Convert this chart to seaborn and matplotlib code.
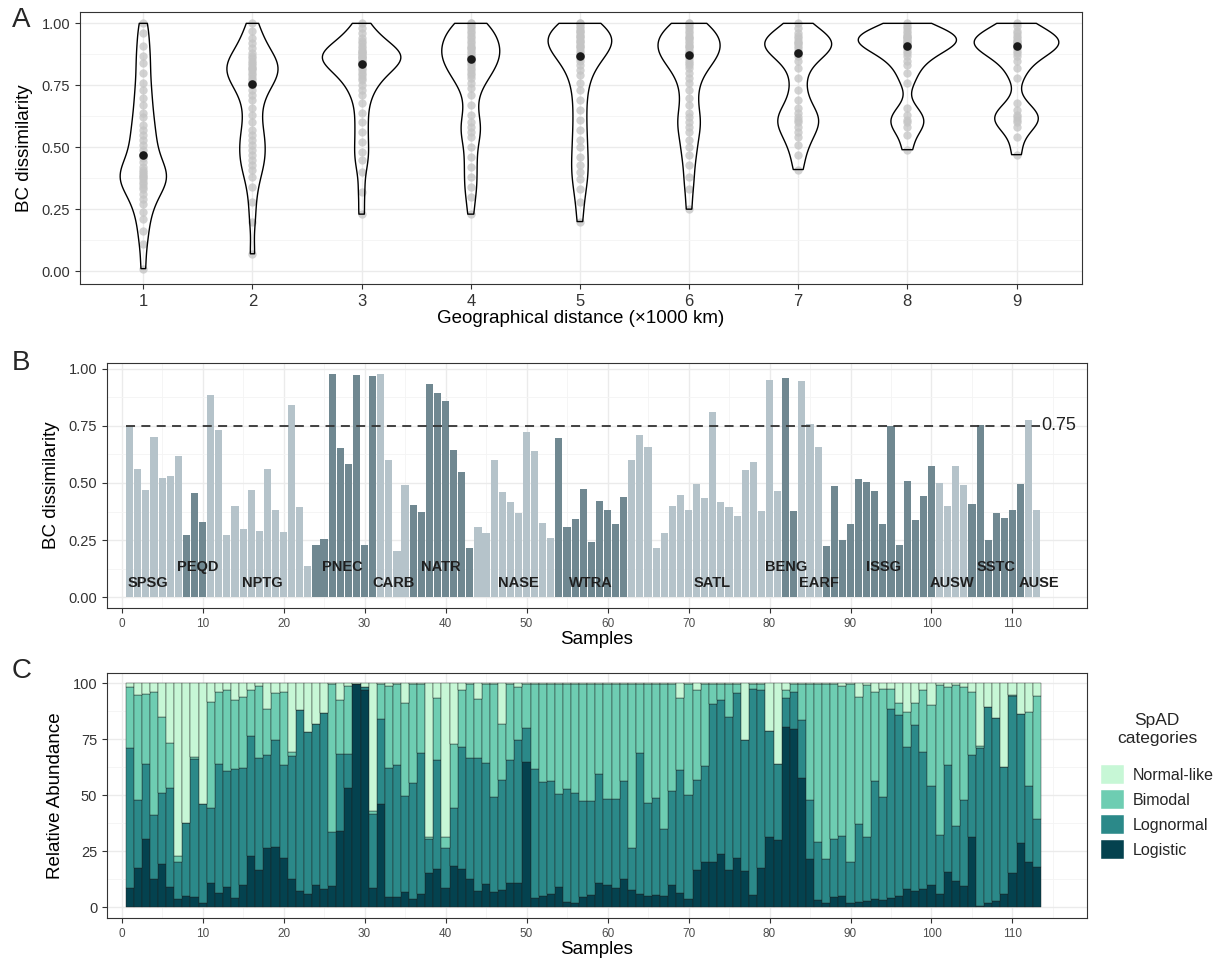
import numpy as np
import pandas as pd
import matplotlib
matplotlib.use("Agg")
import matplotlib.pyplot as plt
import seaborn as sns
from matplotlib.ticker import FixedLocator

sns.set_theme(style="white")
plt.rcParams['font.family'] = ['Liberation Sans', 'DejaVu Sans']

# ---------------- Panel A data ----------------
dist_labels = ['1', '2', '3', '4', '5', '6', '7', '8', '9']
bc_d1 = [0.01, 0.11, 0.16, 0.21, 0.24, 0.27, 0.29, 0.31, 0.33, 0.34, 0.35, 0.36, 0.37,
         0.38, 0.385, 0.39, 0.40, 0.41, 0.42, 0.44, 0.455, 0.47, 0.49, 0.51, 0.53, 0.55,
         0.57, 0.59, 0.62, 0.64, 0.67, 0.70, 0.73, 0.76, 0.80, 0.84, 0.87, 0.91, 0.96, 1.00]
bc_d2 = [0.07, 0.20, 0.28, 0.34, 0.38, 0.41, 0.43, 0.45, 0.47, 0.49, 0.51, 0.53, 0.55, 0.57,
         0.60, 0.63, 0.66, 0.69, 0.71, 0.73, 0.75, 0.76, 0.77, 0.78, 0.79, 0.80, 0.81, 0.82,
         0.82, 0.83, 0.84, 0.85, 0.86, 0.87, 0.88, 0.90, 0.92, 0.94, 0.97, 1.00]
bc_d3 = [0.23, 0.32, 0.40, 0.45, 0.48, 0.52, 0.56, 0.60, 0.64, 0.68, 0.71, 0.73, 0.75, 0.77,
         0.78, 0.79, 0.80, 0.81, 0.82, 0.83, 0.84, 0.84, 0.85, 0.85, 0.86, 0.86, 0.87, 0.87,
         0.88, 0.88, 0.89, 0.89, 0.90, 0.91, 0.92, 0.93, 0.94, 0.96, 0.98, 1.00]
bc_d4 = [0.23, 0.30, 0.34, 0.38, 0.42, 0.46, 0.50, 0.54, 0.56, 0.58, 0.60, 0.63, 0.67, 0.71,
         0.74, 0.76, 0.78, 0.79, 0.80, 0.81, 0.82, 0.83, 0.84, 0.85, 0.86, 0.87, 0.87, 0.88,
         0.89, 0.90, 0.90, 0.91, 0.92, 0.93, 0.94, 0.95, 0.96, 0.97, 0.98, 0.99, 1.00, 1.00]
bc_d5 = [0.20, 0.28, 0.33, 0.37, 0.40, 0.43, 0.46, 0.50, 0.53, 0.57, 0.61, 0.65, 0.69, 0.73,
         0.76, 0.79, 0.81, 0.83, 0.85, 0.86, 0.87, 0.88, 0.89, 0.90, 0.91, 0.91, 0.92, 0.93,
         0.93, 0.94, 0.95, 0.95, 0.96, 0.97, 0.97, 0.98, 0.99, 1.00, 1.00]
bc_d6 = [0.25, 0.33, 0.38, 0.43, 0.47, 0.50, 0.53, 0.56, 0.58, 0.60, 0.62, 0.64, 0.67, 0.70,
         0.73, 0.76, 0.78, 0.80, 0.82, 0.83, 0.84, 0.85, 0.86, 0.87, 0.88, 0.88, 0.89, 0.90,
         0.91, 0.91, 0.92, 0.93, 0.94, 0.94, 0.95, 0.96, 0.97, 0.98, 0.99, 1.00, 1.00]
bc_d7 = [0.41, 0.47, 0.51, 0.54, 0.56, 0.58, 0.60, 0.61, 0.62, 0.64, 0.66, 0.69, 0.73, 0.78,
         0.82, 0.85, 0.87, 0.88, 0.89, 0.90, 0.91, 0.92, 0.92, 0.93, 0.94, 0.95, 0.96, 0.98, 1.00]
bc_d8 = [0.49, 0.55, 0.58, 0.60, 0.61, 0.63, 0.66, 0.76, 0.80, 0.83, 0.85, 0.87, 0.88, 0.89,
         0.90, 0.91, 0.92, 0.92, 0.93, 0.93, 0.94, 0.94, 0.95, 0.95, 0.96, 0.97, 0.98, 0.99, 1.00]
bc_d9 = [0.47, 0.54, 0.58, 0.60, 0.61, 0.62, 0.63, 0.65, 0.68, 0.78, 0.82, 0.85, 0.87, 0.88,
         0.89, 0.90, 0.91, 0.92, 0.92, 0.93, 0.93, 0.94, 0.95, 0.96, 0.97, 0.99, 1.00]
bc_means = [0.467, 0.754, 0.835, 0.857, 0.869, 0.871, 0.882, 0.908, 0.907]

# ---------------- Panel B data ----------------
region_names = ['SPSG', 'PEQD', 'NPTG', 'PNEC', 'CARB', 'NATR', 'NASE', 'WTRA', 'SATL',
                'BENG', 'EARF', 'ISSG', 'AUSW', 'SSTC', 'AUSE']
region_sizes = [7, 3, 13, 8, 4, 8, 10, 9, 19, 2, 3, 14, 4, 7, 2]
region_shade = ['light', 'dark', 'light', 'dark', 'light', 'dark', 'light', 'dark', 'light',
                'dark', 'light', 'dark', 'light', 'dark', 'light']
region_label_x = [3.3, 9.4, 17.4, 27.2, 33.6, 39.4, 49.0, 57.9, 72.9, 82.0, 86.1, 94.1,
                  102.5, 108.0, 113.3]
region_label_y = [0.06, 0.13, 0.06, 0.13, 0.06, 0.13, 0.06, 0.06, 0.06, 0.13, 0.06, 0.13,
                  0.06, 0.13, 0.06]
bc_sample = [0.75, 0.56, 0.47, 0.70, 0.52, 0.53, 0.62, 0.27, 0.455, 0.33,
             0.886, 0.73, 0.272, 0.40, 0.298, 0.47, 0.29, 0.56, 0.383, 0.285,
             0.843, 0.395, 0.136, 0.228, 0.254, 0.978, 0.652, 0.585, 0.975, 0.228,
             0.969, 0.978, 0.60, 0.20, 0.49, 0.402, 0.373, 0.933, 0.895, 0.86,
             0.645, 0.547, 0.215, 0.307, 0.281, 0.602, 0.459, 0.418, 0.368, 0.722,
             0.64, 0.325, 0.259, 0.696, 0.307, 0.342, 0.474, 0.241, 0.421, 0.382,
             0.32, 0.437, 0.602, 0.709, 0.659, 0.215, 0.281, 0.399, 0.447, 0.382,
             0.496, 0.436, 0.81, 0.418, 0.395, 0.355, 0.556, 0.594, 0.376, 0.953,
             0.465, 0.962, 0.376, 0.947, 0.759, 0.659, 0.224, 0.485, 0.25, 0.32,
             0.517, 0.504, 0.465, 0.32, 0.75, 0.228, 0.51, 0.338, 0.443, 0.573,
             0.499, 0.399, 0.573, 0.49, 0.408, 0.754, 0.25, 0.368, 0.346, 0.382,
             0.496, 0.775, 0.38]
threshold = 0.75

# ---------------- Panel C data (cumulative boundaries, %) ----------------
cat_order = ['Normal-like', 'Bimodal', 'Lognormal', 'Logistic']
top_logistic = [8.8, 17.5, 30.3, 12.6, 19.4, 9.1, 3.9, 5.0, 4.5, 1.8,
                11.1, 6.5, 9.2, 4.2, 9.9, 22.8, 16.9, 26.4, 27.0, 22.1,
                12.8, 7.4, 6.2, 9.9, 8.2, 9.5, 34.1, 53.3, 99.4, 97.0,
                8.5, 46.3, 4.5, 4.5, 7.1, 3.9, 5.9, 15.3, 17.0, 8.8,
                18.4, 17.0, 12.5, 7.4, 10.4, 7.0, 7.7, 10.7, 10.7, 64.8,
                4.0, 5.0, 5.9, 8.9, 2.4, 2.1, 4.7, 5.5, 11.0, 9.9,
                8.5, 12.9, 7.7, 5.9, 5.0, 5.5, 5.0, 9.9, 6.5, 3.9,
                16.9, 20.3, 20.3, 24.0, 16.6, 22.1, 16.3, 5.5, 17.4, 31.5,
                30.0, 80.4, 79.7, 57.9, 21.8, 3.3, 2.1, 4.7, 5.0, 1.8,
                2.4, 2.8, 3.9, 3.3, 4.2, 4.9, 8.2, 7.4, 8.3, 9.9,
                5.9, 15.9, 11.9, 9.6, 31.5, 0.7, 1.8, 3.0, 6.2, 15.4,
                28.5, 20.3, 18.1]
top_lognormal = [71.2, 48.1, 63.8, 41.4, 51.2, 53.4, 20.3, 37.8, 66.3, 46.0,
                 44.1, 63.8, 60.8, 61.7, 62.2, 76.4, 66.8, 68.0, 74.8, 63.4,
                 67.4, 88.1, 78.0, 81.6, 86.8, 33.7, 68.5, 68.2, 99.4, 98.2,
                 41.8, 84.1, 62.2, 63.6, 49.7, 55.5, 68.8, 30.7, 65.7, 26.3,
                 44.5, 71.4, 66.8, 66.8, 64.5, 49.1, 57.0, 65.7, 74.5, 80.1,
                 61.7, 55.8, 56.4, 50.7, 53.0, 51.2, 47.5, 47.5, 59.6, 48.5,
                 48.5, 56.2, 26.7, 68.8, 46.6, 48.8, 35.0, 51.9, 61.1, 50.0,
                 56.7, 62.9, 90.8, 92.6, 84.9, 95.5, 74.8, 97.5, 96.7, 78.5,
                 63.8, 93.5, 96.0, 83.4, 48.1, 29.1, 21.8, 30.4, 31.9, 20.3,
                 37.4, 31.5, 56.2, 49.0, 88.3, 85.6, 71.5, 81.2, 69.3, 54.2,
                 32.5, 63.4, 36.4, 47.8, 68.1, 71.1, 89.3, 84.4, 62.6, 94.2,
                 86.0, 54.2, 39.3]
top_bimodal = [98.2, 94.8, 95.3, 96.1, 84.9, 73.3, 23.0, 37.8, 67.0, 46.0,
               91.4, 96.0, 96.7, 92.6, 93.8, 97.0, 98.7, 88.6, 95.5, 96.0,
               69.1, 88.1, 78.0, 81.6, 86.8, 99.4, 92.3, 98.7, 99.4, 98.2,
               43.0, 99.7, 98.5, 99.7, 91.1, 99.4, 99.4, 31.5, 93.5, 31.2,
               72.7, 96.7, 99.4, 93.0, 99.7, 99.7, 81.6, 99.4, 98.2, 99.7,
               99.7, 99.7, 99.7, 99.7, 99.7, 99.7, 99.7, 99.7, 99.7, 99.7,
               99.7, 99.7, 99.7, 99.7, 99.7, 99.7, 99.7, 99.7, 93.5, 99.7,
               97.0, 99.7, 99.7, 99.7, 99.7, 99.5, 74.8, 99.7, 99.7, 78.5,
               63.8, 96.7, 99.5, 99.7, 99.7, 99.7, 99.7, 99.7, 98.5, 99.7,
               93.8, 99.0, 96.0, 97.5, 97.5, 91.1, 87.1, 91.1, 96.7, 90.4,
               99.0, 98.2, 99.0, 98.2, 96.0, 71.8, 89.3, 84.4, 62.6, 94.5,
               86.0, 87.1, 94.0]

# ---------------- Build data frames ----------------
groups = [bc_d1, bc_d2, bc_d3, bc_d4, bc_d5, bc_d6, bc_d7, bc_d8, bc_d9]
dfA = pd.DataFrame({
    'dist': np.concatenate([[lab] * len(g) for lab, g in zip(dist_labels, groups)]),
    'bc': np.concatenate(groups)})

samples = np.arange(1, len(bc_sample) + 1)
dfB = pd.DataFrame({'sample': samples, 'bc': bc_sample,
                    'shade': np.repeat(region_shade, region_sizes)})

tl = np.array(top_logistic)
tn = np.array(top_lognormal)
tb = np.array(top_bimodal)
comp = {'Logistic': tl, 'Lognormal': tn - tl, 'Bimodal': tb - tn, 'Normal-like': 100 - tb}
dfC = pd.concat([pd.DataFrame({'sample': samples, 'category': k, 'pct': v})
                 for k, v in comp.items()], ignore_index=True)

# ---------------- Figure ----------------
W, H = 1230, 961
fig = plt.figure(figsize=(W / 100, H / 100), dpi=100)

def rect(l, t, r, b):
    return [l / W, 1 - b / H, (r - l) / W, (b - t) / H]

axA = fig.add_axes(rect(80, 11.7, 1082, 284))
axB = fig.add_axes(rect(107, 362.7, 1087, 608.3))
axC = fig.add_axes(rect(107, 672.7, 1087, 918))

border = '#333333'
tickcol = '#333333'

def style(ax):
    for s in ax.spines.values():
        s.set_color(border)
        s.set_linewidth(0.8)
        s.set_visible(True)
    ax.set_axisbelow(True)
    ax.grid(which='major', color='#ebebeb', linewidth=1.0)
    ax.grid(which='minor', color='#f4f4f4', linewidth=0.6)
    ax.tick_params(which='major', length=3.5, width=0.8, color=border, direction='out',
                   bottom=True, left=True)
    ax.tick_params(which='minor', length=0)

# ---- Panel A ----
sns.stripplot(data=dfA, x='dist', y='bc', order=dist_labels, jitter=False,
              color='#c4c4c4', alpha=0.75, size=6, linewidth=0, ax=axA, zorder=1)
sns.violinplot(data=dfA, x='dist', y='bc', order=dist_labels, cut=0,
               density_norm='area', inner=None, fill=False, color='black',
               linewidth=1.0, width=0.9, bw_adjust=0.5, ax=axA, zorder=2)
sns.stripplot(x=dist_labels, y=bc_means, order=dist_labels, jitter=False,
              color='#1a1a1a', size=6.2, linewidth=0, ax=axA, zorder=5)
axA.set_xlim(-0.58, 8.6)
axA.set_ylim(-0.052, 1.047)
axA.yaxis.set_major_locator(FixedLocator([0, 0.25, 0.5, 0.75, 1.0]))
axA.set_yticklabels(['0.00', '0.25', '0.50', '0.75', '1.00'])
axA.yaxis.set_minor_locator(FixedLocator([0.125, 0.375, 0.625, 0.875]))
style(axA)
axA.tick_params(axis='x', labelsize=12, labelcolor=tickcol)
axA.tick_params(axis='y', labelsize=10.5, labelcolor=tickcol)
axA.set_xlabel('Geographical distance (×1000 km)', fontsize=13.5, color='black', labelpad=1)
axA.set_ylabel('BC dissimilarity', fontsize=13.5, color='black', labelpad=6)

# ---- Panel B ----
sns.barplot(data=dfB, x='sample', y='bc', hue='shade',
            palette={'light': '#b2c4cd', 'dark': '#6a8b96'}, native_scale=True,
            dodge=False, width=0.88, linewidth=0, legend=False, ax=axB, zorder=2)
axB.plot([0.6, 113.4], [threshold, threshold], linestyle=(0, (5, 3.5)),
         color='#333333', linewidth=1.3, zorder=4)
axB.text(113.5, threshold, '0.75', fontsize=13, color='#222222', ha='left', va='center')
for name, lx, ly in zip(region_names, region_label_x, region_label_y):
    axB.text(lx, ly, name, fontsize=10.5, fontweight='bold', color='#1f1f1f',
             ha='center', va='center', zorder=5)
axB.set_xlim(-1.8, 119.2)
axB.set_ylim(-0.049, 1.027)
axB.xaxis.set_major_locator(FixedLocator(np.arange(0, 111, 10)))
axB.xaxis.set_minor_locator(FixedLocator(np.arange(5, 116, 10)))
axB.yaxis.set_major_locator(FixedLocator([0, 0.25, 0.5, 0.75, 1.0]))
axB.set_yticklabels(['0.00', '0.25', '0.50', '0.75', '1.00'])
axB.yaxis.set_minor_locator(FixedLocator([0.125, 0.375, 0.625, 0.875]))
style(axB)
axB.tick_params(axis='x', labelsize=8.5, labelcolor='#4d4d4d')
axB.tick_params(axis='y', labelsize=10.5, labelcolor=tickcol)
axB.set_xlabel('Samples', fontsize=13.5, color='black', labelpad=1)
axB.set_ylabel('BC dissimilarity', fontsize=13.5, color='black', labelpad=6)

# ---- Panel C ----
palC = {'Normal-like': '#c7f7d6', 'Bimodal': '#6ecdb2', 'Lognormal': '#2b8989',
        'Logistic': '#04424f'}
sns.histplot(data=dfC, x='sample', weights='pct', hue='category', hue_order=cat_order,
             multiple='stack', discrete=True, shrink=1.0, palette=palC, alpha=1,
             edgecolor='#1e1e1e', linewidth=0.3, ax=axC, zorder=2)
axC.set_xlim(-1.8, 119.2)
axC.set_ylim(-4.7, 104.6)
axC.xaxis.set_major_locator(FixedLocator(np.arange(0, 111, 10)))
axC.xaxis.set_minor_locator(FixedLocator(np.arange(5, 116, 10)))
axC.yaxis.set_major_locator(FixedLocator([0, 25, 50, 75, 100]))
axC.yaxis.set_minor_locator(FixedLocator([12.5, 37.5, 62.5, 87.5]))
style(axC)
axC.tick_params(axis='x', labelsize=8.5, labelcolor='#4d4d4d')
axC.tick_params(axis='y', labelsize=10.5, labelcolor=tickcol)
axC.set_xlabel('Samples', fontsize=13.5, color='black', labelpad=1)
axC.set_ylabel('Relative Abundance', fontsize=13.5, color='black', labelpad=6)
sns.move_legend(axC, 'upper left', bbox_to_anchor=(1.008, 0.86), title='SpAD\ncategories',
                frameon=False, fontsize=11.5, title_fontsize=12.5, handlelength=1.45,
                handleheight=1.45, labelspacing=0.38, handletextpad=0.5, borderaxespad=0)
leg = axC.get_legend()
leg.get_title().set_multialignment('center')
leg._legend_box.sep = 14
for h in leg.legend_handles:
    h.set_edgecolor('white')

# Panel letters
fig.text(12 / W, 1 - 20 / H, 'A', fontsize=20, va='center', ha='left')
fig.text(12 / W, 1 - 363 / H, 'B', fontsize=20, va='center', ha='left')
fig.text(12 / W, 1 - 671 / H, 'C', fontsize=20, va='center', ha='left')

fig.savefig('out.png', dpi=100)
